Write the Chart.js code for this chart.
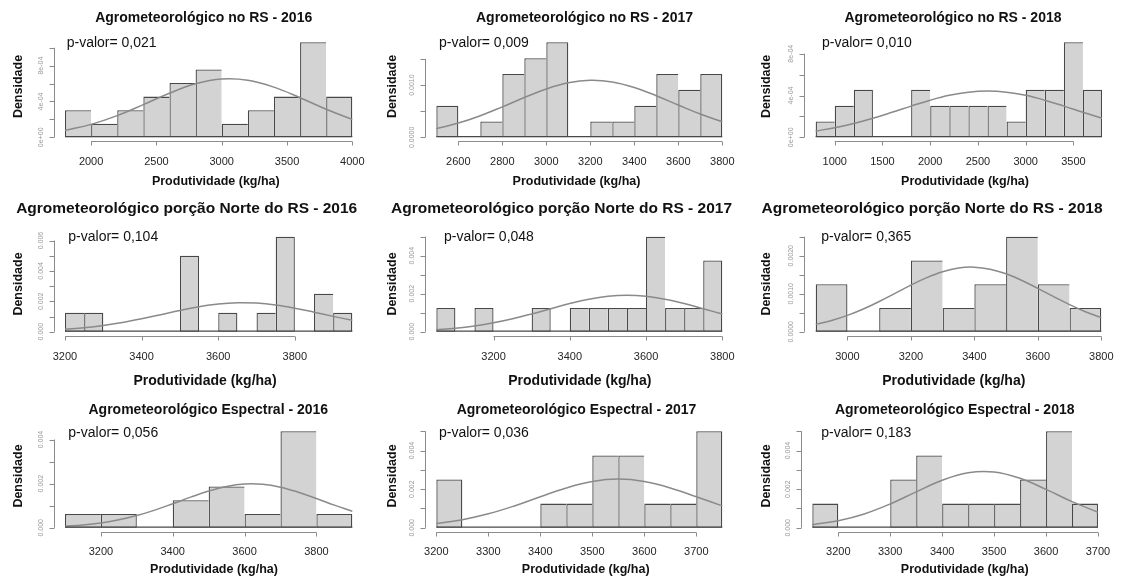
<!DOCTYPE html>
<html>
<head>
<meta charset="utf-8">
<script src="https://cdn.jsdelivr.net/npm/chart.js@4.4.1/dist/chart.umd.min.js"></script>
<style>
  html, body { margin: 0; padding: 0; background: #fff; }
  #wrap { position: relative; width: 1122px; height: 578px; overflow: hidden; background: #fff; }
  #wrap canvas { position: absolute; }
</style>
</head>
<body>
<div id="wrap"></div>
<script>
// ---------- texts ----------
const panelTitles = [
  "Agrometeorológico no RS - 2016",
  "Agrometeorológico no RS - 2017",
  "Agrometeorológico no RS - 2018",
  "Agrometeorológico porção Norte do RS - 2016",
  "Agrometeorológico porção Norte do RS - 2017",
  "Agrometeorológico porção Norte do RS - 2018",
  "Agrometeorológico Espectral - 2016",
  "Agrometeorológico Espectral - 2017",
  "Agrometeorológico Espectral - 2018"
];
const pValues = ["0,021", "0,009", "0,010", "0,104", "0,048", "0,365", "0,056", "0,036", "0,183"];
const xAxisTitle = "Produtividade (kg/ha)";
const yAxisTitle = "Densidade";

// ---------- histogram breaks and counts ----------
const breaksRS2016 = [1800, 2000, 2200, 2400, 2600, 2800, 3000, 3200, 3400, 3600, 3800, 4000];
const countsRS2016 = [2, 1, 2, 3, 4, 5, 1, 2, 3, 7, 3];
const breaksRS2017 = [2500, 2600, 2700, 2800, 2900, 3000, 3100, 3200, 3300, 3400, 3500, 3600, 3700, 3800];
const countsRS2017 = [2, 0, 1, 4, 5, 6, 0, 1, 1, 2, 4, 3, 4];
const breaksRS2018 = [800, 1000, 1200, 1400, 1600, 1800, 2000, 2200, 2400, 2600, 2800, 3000, 3200, 3400, 3600, 3800];
const countsRS2018 = [1, 2, 3, 0, 0, 3, 2, 2, 2, 2, 1, 3, 3, 6, 3];

const breaksNorte2016 = [3200, 3250, 3300, 3350, 3400, 3450, 3500, 3550, 3600, 3650, 3700, 3750, 3800, 3850, 3900, 3950];
const countsNorte2016 = [1, 1, 0, 0, 0, 0, 4, 0, 1, 0, 1, 5, 0, 2, 1];
const breaksNorte2017 = [3050, 3100, 3150, 3200, 3250, 3300, 3350, 3400, 3450, 3500, 3550, 3600, 3650, 3700, 3750, 3800];
const countsNorte2017 = [1, 0, 1, 0, 0, 1, 0, 1, 1, 1, 1, 4, 1, 1, 3];
const breaksNorte2018 = [2900, 3000, 3100, 3200, 3300, 3400, 3500, 3600, 3700, 3800];
const countsNorte2018 = [2, 0, 1, 3, 1, 2, 4, 2, 1];

const breaksEsp2016 = [3100, 3200, 3300, 3400, 3500, 3600, 3700, 3800, 3900];
const countsEsp2016 = [1, 1, 0, 2, 3, 1, 7, 1];
const breaksEsp2017 = [3200, 3250, 3300, 3350, 3400, 3450, 3500, 3550, 3600, 3650, 3700, 3750];
const countsEsp2017 = [2, 0, 0, 0, 1, 1, 3, 3, 1, 1, 4];
const breaksEsp2018 = [3150, 3200, 3250, 3300, 3350, 3400, 3450, 3500, 3550, 3600, 3650, 3700];
const countsEsp2018 = [1, 0, 0, 2, 3, 1, 1, 1, 2, 4, 1];

// ---------- fitted normal density curves ----------
const curveXRS2016 = [1800, 2000, 2200, 2400, 2600, 2800, 3000, 3200, 3400, 3600, 3800, 4000];
const curveYRS2016 = [0.0000774, 0.0001445, 0.000242, 0.0003643, 0.0004923, 0.0005972, 0.0006509, 0.000637, 0.00056, 0.000442, 0.0003133, 0.0001995];
const curveXRS2017 = [2500, 2600, 2700, 2800, 2900, 3000, 3100, 3200, 3300, 3400, 3500, 3600, 3700, 3800];
const curveYRS2017 = [0.000166, 0.000272, 0.000413, 0.000582, 0.000761, 0.000925, 0.001042, 0.00109, 0.001058, 0.000953, 0.000796, 0.000618, 0.000445, 0.000297];
const curveXRS2018 = [800, 1000, 1200, 1400, 1600, 1800, 2000, 2200, 2400, 2600, 2800, 3000, 3200, 3400, 3600, 3800];
const curveYRS2018 = [0.0000599, 0.0000913, 0.0001321, 0.0001821, 0.000239, 0.0002985, 0.0003548, 0.0004014, 0.0004322, 0.000443, 0.0004322, 0.0004014, 0.0003548, 0.0002985, 0.000239, 0.0001821];

const curveXNorte2016 = [3200, 3250, 3300, 3350, 3400, 3450, 3500, 3550, 3600, 3650, 3700, 3750, 3800, 3850, 3900, 3950];
const curveYNorte2016 = [0.000157, 0.000261, 0.00041, 0.000607, 0.000848, 0.001119, 0.001394, 0.001639, 0.001819, 0.001905, 0.001883, 0.001757, 0.001547, 0.001286, 0.001009, 0.000747];
const curveXNorte2017 = [3050, 3100, 3150, 3200, 3250, 3300, 3350, 3400, 3450, 3500, 3550, 3600, 3650, 3700, 3750, 3800];
const curveYNorte2017 = [0.000107, 0.000185, 0.000302, 0.000466, 0.000679, 0.000932, 0.001209, 0.00148, 0.00171, 0.001865, 0.00192, 0.001865, 0.00171, 0.00148, 0.001209, 0.000932];
const curveXNorte2018 = [2900, 2950, 3000, 3050, 3100, 3150, 3200, 3250, 3300, 3350, 3400, 3450, 3500, 3550, 3600, 3650, 3700, 3750, 3800];
const curveYNorte2018 = [0.000193, 0.000295, 0.000429, 0.000597, 0.000794, 0.001009, 0.001226, 0.001424, 0.00158, 0.001676, 0.001698, 0.001645, 0.001524, 0.001348, 0.00114, 0.000922, 0.000712, 0.000526, 0.000371];

const curveXEsp2016 = [3100, 3150, 3200, 3250, 3300, 3350, 3400, 3450, 3500, 3550, 3600, 3650, 3700, 3750, 3800, 3850, 3900];
const curveYEsp2016 = [0.000068, 0.000126, 0.000219, 0.00036, 0.000553, 0.0008, 0.001087, 0.001387, 0.001662, 0.001872, 0.00198, 0.001968, 0.001837, 0.001611, 0.001327, 0.001027, 0.000747];
const curveXEsp2017 = [3200, 3250, 3300, 3350, 3400, 3450, 3500, 3550, 3600, 3650, 3700, 3750];
const curveYEsp2017 = [0.000217, 0.000415, 0.000721, 0.001131, 0.001606, 0.002063, 0.002397, 0.00252, 0.002397, 0.002063, 0.001606, 0.001131];
const curveXEsp2018 = [3150, 3200, 3250, 3300, 3350, 3400, 3450, 3500, 3550, 3600, 3650, 3700];
const curveYEsp2018 = [0.00016, 0.000362, 0.000714, 0.001232, 0.001861, 0.002462, 0.002851, 0.002889, 0.002563, 0.00199, 0.001352, 0.000804];

// ---------- axis ticks ----------
const xTicksRS2016 = [2000, 2500, 3000, 3500, 4000];
const xTicksRS2017 = [2600, 2800, 3000, 3200, 3400, 3600, 3800];
const xTicksRS2018 = [1000, 1500, 2000, 2500, 3000, 3500];
const xTicksNorte2016 = [3200, 3400, 3600, 3800];
const xTicksNorte2017 = [3200, 3400, 3600, 3800];
const xTicksNorte2018 = [3000, 3200, 3400, 3600, 3800];
const xTicksEsp2016 = [3200, 3400, 3600, 3800];
const xTicksEsp2017 = [3200, 3300, 3400, 3500, 3600, 3700];
const xTicksEsp2018 = [3200, 3300, 3400, 3500, 3600, 3700];

const yTicksRS2016 = [0, 0.0002, 0.0004, 0.0006, 0.0008, 0.001];
const yLabelsRS2016 = ["0e+00", "", "4e-04", "", "8e-04", ""];
const yTicksRS2017 = [0, 0.0005, 0.001, 0.0015];
const yLabelsRS2017 = ["0.0000", "", "0.0010", ""];
const yTicksRS2018 = [0, 0.0002, 0.0004, 0.0006, 0.0008];
const yLabelsRS2018 = ["0e+00", "", "4e-04", "", "8e-04"];
const yTicksNorte2016 = [0, 0.001, 0.002, 0.003, 0.004, 0.005, 0.006];
const yLabelsNorte2016 = ["0.000", "", "0.002", "", "0.004", "", "0.006"];
const yTicksNorte2017 = [0, 0.001, 0.002, 0.003, 0.004, 0.005];
const yLabelsNorte2017 = ["0.000", "", "0.002", "", "0.004", ""];
const yTicksNorte2018 = [0, 0.0005, 0.001, 0.0015, 0.002, 0.0025];
const yLabelsNorte2018 = ["0.0000", "", "0.0010", "", "0.0020", ""];
const yTicksEsp2016 = [0, 0.001, 0.002, 0.003, 0.004];
const yLabelsEsp2016 = ["0.000", "", "0.002", "", "0.004"];
const yTicksEsp2017 = [0, 0.001, 0.002, 0.003, 0.004, 0.005];
const yLabelsEsp2017 = ["0.000", "", "0.002", "", "0.004", ""];
const yTicksEsp2018 = [0, 0.001, 0.002, 0.003, 0.004, 0.005];
const yLabelsEsp2018 = ["0.000", "", "0.002", "", "0.004", ""];

// ---------- panel assembly ----------
const panels = [
  { breaks: breaksRS2016, counts: countsRS2016, cx: curveXRS2016, cy: curveYRS2016, xt: xTicksRS2016, yt: yTicksRS2016, yl: yLabelsRS2016 },
  { breaks: breaksRS2017, counts: countsRS2017, cx: curveXRS2017, cy: curveYRS2017, xt: xTicksRS2017, yt: yTicksRS2017, yl: yLabelsRS2017 },
  { breaks: breaksRS2018, counts: countsRS2018, cx: curveXRS2018, cy: curveYRS2018, xt: xTicksRS2018, yt: yTicksRS2018, yl: yLabelsRS2018 },
  { breaks: breaksNorte2016, counts: countsNorte2016, cx: curveXNorte2016, cy: curveYNorte2016, xt: xTicksNorte2016, yt: yTicksNorte2016, yl: yLabelsNorte2016 },
  { breaks: breaksNorte2017, counts: countsNorte2017, cx: curveXNorte2017, cy: curveYNorte2017, xt: xTicksNorte2017, yt: yTicksNorte2017, yl: yLabelsNorte2017 },
  { breaks: breaksNorte2018, counts: countsNorte2018, cx: curveXNorte2018, cy: curveYNorte2018, xt: xTicksNorte2018, yt: yTicksNorte2018, yl: yLabelsNorte2018 },
  { breaks: breaksEsp2016, counts: countsEsp2016, cx: curveXEsp2016, cy: curveYEsp2016, xt: xTicksEsp2016, yt: yTicksEsp2016, yl: yLabelsEsp2016 },
  { breaks: breaksEsp2017, counts: countsEsp2017, cx: curveXEsp2017, cy: curveYEsp2017, xt: xTicksEsp2017, yt: yTicksEsp2017, yl: yLabelsEsp2017 },
  { breaks: breaksEsp2018, counts: countsEsp2018, cx: curveXEsp2018, cy: curveYEsp2018, xt: xTicksEsp2018, yt: yTicksEsp2018, yl: yLabelsEsp2018 }
];

// ---------- page geometry (pixels inside each cell) ----------
const FONT = '"Liberation Sans", Arial, Helvetica, sans-serif';
const geom = {
  cellW: 374,
  cellX: [0, 374, 748],
  cellY: [0, 190, 385],
  cellH: [190, 200, 193],
  plotX: [[53.5, 363.8], [50.9, 359.7], [56.2, 365.5],
          [53.5, 363.8], [50.9, 359.7], [56.3, 364.7],
          [53.5, 363.8], [50.9, 359.7], [52.9, 361.4]],
  plotY: [[38.5, 141.1], [42.9, 145.5], [42.4, 146.6]],
  titleX: [203.7, 210.5, 205, 186.7, 187.5, 184, 208.3, 202.5, 206.7],
  titleY: [18, 18.3, 25],
  titleSize: [14, 15.5, 14],
  pX: [66.7, 65, 74, 68.3, 70, 73.3, 68.3, 65, 73.3],
  pY: [43.3, 46.7, 48.3],
  tickLabelY: [161.7, 166.7, 166.7],
  xTitleX: [215.8, 202.5, 217, 205, 205.8, 205.8, 214, 211.7, 216.7],
  xTitleY: [181.7, 191, 184.3],
  xTitleSize: [12.5, 14, 12.5],
  yTitleX: 19,
  yTitleY: [86.5, 94, 91]
};

const BAR_FILL = '#d3d3d3';
const BAR_EDGE = '#484848';
const EDGE_W = 1.3;
const CURVE = '#8a8a8a';
const AXIS = '#8c8c8c';

function toDensity(counts, breaks) {
  const n = counts.reduce((s, c) => s + c, 0);
  return counts.map((c, i) => c / (n * (breaks[i + 1] - breaks[i])));
}

// R-style axes, labels and annotations drawn through the chart scales
function rDecorations(idx, p) {
  const row = Math.floor(idx / 3);
  return {
    id: 'rDecorations' + idx,
    afterDatasetsDraw(chart) {
      const { ctx, scales: { x, y } } = chart;
      ctx.save();
      // histogram bottom edge across the full break range (covers empty bins)
      const y0 = y.getPixelForValue(0) - EDGE_W / 2;
      ctx.strokeStyle = BAR_EDGE;
      ctx.lineWidth = EDGE_W;
      ctx.beginPath();
      ctx.moveTo(x.getPixelForValue(p.breaks[0]), y0);
      ctx.lineTo(x.getPixelForValue(p.breaks[p.breaks.length - 1]), y0);
      ctx.stroke();
      ctx.restore();
    },
    afterDraw(chart) {
      const { ctx, scales: { x, y }, chartArea: a } = chart;
      ctx.save();
      ctx.strokeStyle = AXIS;
      ctx.lineWidth = 1;

      // x axis
      const ax = Math.round(a.bottom) + 0.5;
      const xs = p.xt.map(v => x.getPixelForValue(v));
      ctx.beginPath();
      ctx.moveTo(xs[0], ax);
      ctx.lineTo(xs[xs.length - 1], ax);
      xs.forEach(px => { const q = Math.round(px) + 0.5; ctx.moveTo(q, ax); ctx.lineTo(q, ax + 4); });
      ctx.stroke();
      ctx.fillStyle = '#262626';
      ctx.font = '11px ' + FONT;
      ctx.textAlign = 'center';
      ctx.textBaseline = 'middle';
      p.xt.forEach((v, i) => ctx.fillText(String(v), xs[i], geom.tickLabelY[row]));

      // y axis
      const ay = Math.round(a.left) + 0.5;
      const ys = p.yt.map(v => y.getPixelForValue(v));
      ctx.beginPath();
      ctx.moveTo(ay, ys[0]);
      ctx.lineTo(ay, ys[ys.length - 1]);
      ys.forEach(py => { const q = Math.round(py) + 0.5; ctx.moveTo(ay, q); ctx.lineTo(ay - 5, q); });
      ctx.stroke();
      ctx.fillStyle = '#9a9a9a';
      ctx.font = '7px ' + FONT;
      p.yl.forEach((lab, i) => {
        if (!lab) return;
        ctx.save();
        ctx.translate(ay - 13, ys[i]);
        ctx.rotate(-Math.PI / 2);
        ctx.fillText(lab, 0, 0);
        ctx.restore();
      });

      // titles
      ctx.fillStyle = '#111';
      ctx.font = 'bold ' + geom.titleSize[row] + 'px ' + FONT;
      ctx.fillText(panelTitles[idx], geom.titleX[idx], geom.titleY[row]);

      ctx.font = 'bold ' + geom.xTitleSize[row] + 'px ' + FONT;
      ctx.fillText(xAxisTitle, geom.xTitleX[idx], geom.xTitleY[row]);

      ctx.save();
      ctx.font = 'bold 12.5px ' + FONT;
      ctx.translate(geom.yTitleX, geom.yTitleY[row]);
      ctx.rotate(-Math.PI / 2);
      ctx.fillText(yAxisTitle, 0, 0);
      ctx.restore();

      ctx.font = '14px ' + FONT;
      ctx.textAlign = 'left';
      ctx.fillText('p-valor= ' + pValues[idx], geom.pX[idx], geom.pY[row]);
      ctx.restore();
    }
  };
}

const wrap = document.getElementById('wrap');

panels.forEach((p, idx) => {
  const row = Math.floor(idx / 3), col = idx % 3;
  const W = geom.cellW, H = geom.cellH[row];
  const canvas = document.createElement('canvas');
  canvas.width = W;
  canvas.height = H;
  canvas.style.left = geom.cellX[col] + 'px';
  canvas.style.top = geom.cellY[row] + 'px';
  canvas.style.width = W + 'px';
  canvas.style.height = H + 'px';
  wrap.appendChild(canvas);

  const dens = toDensity(p.counts, p.breaks);
  const ymax = Math.max(...dens);
  const lo = p.breaks[0], hi = p.breaks[p.breaks.length - 1];
  const pad = 0.04 * (hi - lo);
  const nb = p.counts.length;

  const bars = p.counts.map((c, i) => ({ x: (p.breaks[i] + p.breaks[i + 1]) / 2, y: dens[i] }));
  const curve = p.cx.map((v, i) => ({ x: v, y: p.cy[i] }));

  const [pl, pr] = geom.plotX[idx];
  const [pt, pb] = geom.plotY[row];

  new Chart(canvas, {
    type: 'bar',
    data: {
      datasets: [
        {
          type: 'line',
          data: curve,
          borderColor: CURVE,
          borderWidth: 1.5,
          pointRadius: 0,
          tension: 0.4,
          fill: false,
          order: 0
        },
        {
          type: 'bar',
          data: bars,
          backgroundColor: BAR_FILL,
          borderColor: BAR_EDGE,
          borderSkipped: false,
          inflateAmount: 0,
          borderWidth: (ctx) => {
            const i = ctx.dataIndex;
            const closesRight = (i === nb - 1) || p.counts[i + 1] === 0;
            return { top: EDGE_W, left: EDGE_W, bottom: EDGE_W, right: closesRight ? EDGE_W : 0 };
          },
          barPercentage: 1,
          categoryPercentage: 1,
          order: 1
        }
      ]
    },
    options: {
      responsive: false,
      animation: false,
      devicePixelRatio: 1,
      events: [],
      layout: { padding: { left: pl, right: W - pr, top: pt, bottom: H - pb } },
      plugins: { legend: { display: false }, tooltip: { enabled: false }, title: { display: false } },
      scales: {
        x: {
          type: 'linear', display: false, min: lo - pad, max: hi + pad, offset: false,
          afterBuildTicks: (s) => { s.ticks = p.breaks.map(v => ({ value: v })); }
        },
        y: { type: 'linear', display: false, min: -0.04 * ymax, max: 1.04 * ymax }
      }
    },
    plugins: [rDecorations(idx, p)]
  });
});
</script>
</body>
</html>
